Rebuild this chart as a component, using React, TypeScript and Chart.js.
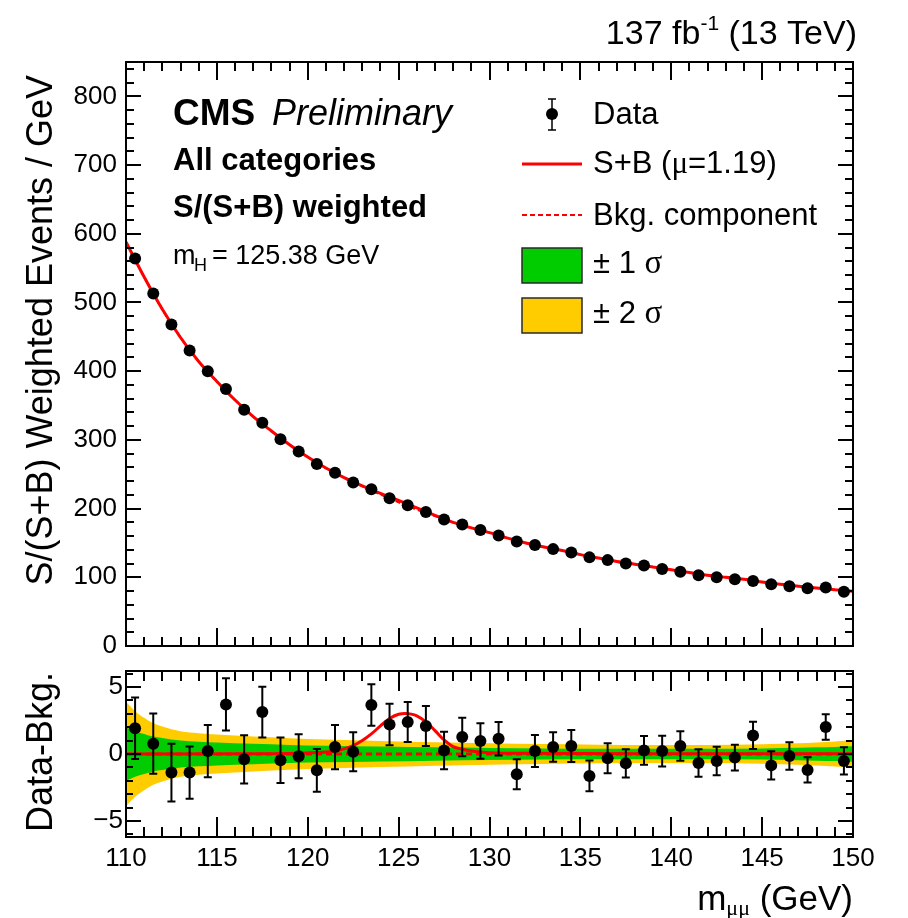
import React, { useEffect, useRef } from "react";
import { Chart, registerables } from "chart.js";

Chart.register(...registerables);

const SANS = '"Liberation Sans", Arial, Helvetica, sans-serif';
const SERIF = '"Liberation Serif", "DejaVu Serif", serif';

// ---------- data ----------
const binCenters = [
  110.5, 111.5, 112.5, 113.5, 114.5, 115.5, 116.5, 117.5, 118.5, 119.5,
  120.5, 121.5, 122.5, 123.5, 124.5, 125.5, 126.5, 127.5, 128.5, 129.5,
  130.5, 131.5, 132.5, 133.5, 134.5, 135.5, 136.5, 137.5, 138.5, 139.5,
  140.5, 141.5, 142.5, 143.5, 144.5, 145.5, 146.5, 147.5, 148.5, 149.5,
];
const dataWeighted = [
  564, 513, 468, 430, 400, 374, 344, 325, 301, 283,
  265, 252, 238, 228, 215, 205, 195, 184, 177, 169,
  161, 152, 147, 141, 136, 129, 125, 120, 117, 112,
  108, 103, 100, 97, 94.5, 90, 87, 84, 85, 79,
];
const curveX = [
  110, 111, 112, 113, 114, 115, 116, 117, 118, 119, 120, 121, 122, 123, 124,
  125, 126, 127, 128, 129, 130, 131, 132, 133, 134, 135, 136, 137, 138, 139,
  140, 141, 142, 143, 144, 145, 146, 147, 148, 149, 150,
];
const fitSB = [
  588, 537, 490, 449, 414, 385, 358, 334, 313, 293, 275, 259, 245, 233, 222,
  212, 201, 190, 180, 172, 165, 157, 150, 144, 139, 133, 128, 123, 119, 115,
  111, 107, 103, 100, 97, 93, 90, 87, 84.5, 82, 79.5,
];
const fitBkg = [
  588, 537, 490, 449, 414, 385, 358, 334, 313, 293, 275, 259, 245, 232.5, 220.5,
  209, 198.5, 189, 180, 172, 165, 157, 150, 144, 139, 133, 128, 123, 119, 115,
  111, 107, 103, 100, 97, 93, 90, 87, 84.5, 82, 79.5,
];
const residuals = [
  1.92, 0.77, -1.39, -1.39, 0.22, 3.7, -0.4, 3.13, -0.47, -0.17,
  -1.22, 0.52, 0.17, 3.66, 2.2, 2.39, 2.09, 0.27, 1.27, 0.97,
  1.14, -1.52, 0.22, 0.52, 0.6, -1.64, -0.32, -0.7, 0.27, 0.22,
  0.6, -0.67, -0.52, -0.27, 1.39, -0.85, -0.15, -1.19, 2.01, -0.52,
];
const residualErr = [
  2.3, 2.25, 2.15, 1.95, 1.95, 1.95, 1.8, 1.9, 1.7, 1.65,
  1.6, 1.65, 1.45, 1.55, 1.55, 1.5, 1.5, 1.4, 1.43, 1.33,
  1.25, 1.12, 1.2, 1.1, 1.2, 1.15, 1.12, 1.06, 1.07, 1.15,
  1.1, 1.03, 1.07, 0.97, 1.02, 1.05, 1.02, 0.94, 0.95, 1.02,
];
const bandX = [110, 110.5, 111, 111.5, 112, 113, 114, 115, 117, 119, 121, 124, 127, 130, 133, 136, 139, 142, 145, 147, 148, 149, 150];
const sigma1 = [2.0, 1.7, 1.5, 1.3, 1.2, 1.0, 0.92, 0.85, 0.76, 0.68, 0.62, 0.56, 0.5, 0.45, 0.42, 0.4, 0.4, 0.4, 0.42, 0.46, 0.5, 0.53, 0.58];
const sigma2 = [3.9, 3.2, 2.7, 2.3, 2.05, 1.7, 1.55, 1.45, 1.3, 1.18, 1.08, 0.98, 0.88, 0.8, 0.74, 0.7, 0.68, 0.68, 0.72, 0.8, 0.86, 0.93, 1.02];
const signalX = [110, 118, 119, 120, 121, 121.6, 122, 122.5, 123, 123.5, 124, 124.5, 125, 125.35, 125.7, 126, 126.5, 127, 127.5, 128, 128.5, 129, 130, 132, 140, 150];
const signalY = [0, 0.02, 0.04, 0.08, 0.15, 0.25, 0.38, 0.62, 1.0, 1.5, 2.1, 2.65, 2.97, 3.03, 2.98, 2.85, 2.4, 1.75, 1.05, 0.55, 0.35, 0.22, 0.1, 0.05, 0.02, 0.01];
const bkgLineX = [110, 150];
const bkgLineY = [0, 0];

const xTickValues = [110, 115, 120, 125, 130, 135, 140, 145, 150];
const yTickTop = [0, 100, 200, 300, 400, 500, 600, 700, 800];
const yTickBottom = [-5, 0, 5];

Chart.defaults.font.family = SANS;

function pts(xs: number[], ys: number[]) {
  return xs.map((x, i) => ({ x, y: ys[i] }));
}

function noPad(s: any) {
  s.paddingTop = 0;
  s.paddingBottom = 0;
  s.paddingLeft = 0;
  s.paddingRight = 0;
}

function drawFrame(chart: any, t: { xMaj: number; xMin: number; yMaj: number; yMin: number; yFrom: number; yTo: number; yStep: number; yMajEvery: number }) {
  const { ctx, chartArea: a, scales } = chart;
  const xs = scales.x, ys = scales.y;
  ctx.save();
  ctx.strokeStyle = "#000";
  ctx.lineWidth = 2;
  ctx.beginPath();
  for (let v = 110; v <= 150; v += 1) {
    const px = Math.round(xs.getPixelForValue(v));
    const len = v % 5 === 0 ? t.xMaj : t.xMin;
    ctx.moveTo(px, a.bottom);
    ctx.lineTo(px, a.bottom - len);
    ctx.moveTo(px, a.top);
    ctx.lineTo(px, a.top + len);
  }
  for (let v = t.yFrom; v <= t.yTo + 1e-9; v += t.yStep) {
    const py = Math.round(ys.getPixelForValue(v));
    const len = Math.abs(v % t.yMajEvery) < 1e-9 ? t.yMaj : t.yMin;
    ctx.moveTo(a.left, py);
    ctx.lineTo(a.left + len, py);
    ctx.moveTo(a.right, py);
    ctx.lineTo(a.right - len, py);
  }
  ctx.stroke();
  ctx.lineWidth = 2;
  ctx.strokeRect(a.left, a.top, a.right - a.left, a.bottom - a.top);
  ctx.restore();
}

function text(ctx: CanvasRenderingContext2D, s: string, x: number, y: number, font: string, align: CanvasTextAlign = "left") {
  ctx.font = font;
  ctx.textAlign = align;
  ctx.textBaseline = "alphabetic";
  ctx.fillStyle = "#000";
  ctx.fillText(s, x, y);
}

function vText(ctx: CanvasRenderingContext2D, s: string, x: number, yEnd: number, font: string) {
  ctx.save();
  ctx.translate(x, yEnd);
  ctx.rotate(-Math.PI / 2);
  text(ctx, s, 0, 0, font, "right");
  ctx.restore();
}

const topDecor = {
  id: "topDecor",
  afterDraw(chart: any) {
    const ctx: CanvasRenderingContext2D = chart.ctx;
    drawFrame(chart, { xMaj: 18, xMin: 9, yMaj: 15, yMin: 8, yFrom: 0, yTo: 840, yStep: 20, yMajEvery: 100 });
    ctx.save();
    // top-right luminosity label
    const f1 = `34px ${SANS}`;
    const fs = `21px ${SANS}`;
    ctx.font = f1;
    const w3 = ctx.measureText(" (13 TeV)").width;
    ctx.font = fs;
    const ws = ctx.measureText("-1").width;
    const x3 = 857 - w3;
    const xs = x3 - ws;
    text(ctx, " (13 TeV)", x3, 44, f1);
    text(ctx, "-1", xs, 30, fs);
    text(ctx, "137 fb", xs, 44, f1, "right");

    // CMS labels
    text(ctx, "CMS", 173, 125, `bold 37px ${SANS}`);
    text(ctx, "Preliminary", 272, 125, `italic 36px ${SANS}`);
    text(ctx, "All categories", 173, 170, `bold 31px ${SANS}`);
    text(ctx, "S/(S+B) weighted", 173, 217, `bold 31px ${SANS}`);
    text(ctx, "m", 173, 264, `27px ${SANS}`);
    text(ctx, "H", 194, 271, `18px ${SANS}`);
    text(ctx, "= 125.38 GeV", 212, 264, `27px ${SANS}`);

    // legend
    const lf = `31px ${SANS}`;
    ctx.fillStyle = "#000";
    ctx.strokeStyle = "#000";
    ctx.lineWidth = 1.5;
    ctx.beginPath();
    ctx.moveTo(552, 99); ctx.lineTo(552, 130);
    ctx.moveTo(548, 99); ctx.lineTo(556, 99);
    ctx.moveTo(548, 130); ctx.lineTo(556, 130);
    ctx.stroke();
    ctx.beginPath();
    ctx.arc(552, 114, 6, 0, Math.PI * 2);
    ctx.fill();
    text(ctx, "Data", 593, 124, lf);

    ctx.strokeStyle = "#ff0000";
    ctx.lineWidth = 3;
    ctx.beginPath(); ctx.moveTo(522, 164); ctx.lineTo(582, 164); ctx.stroke();
    ctx.font = lf;
    const wsb = ctx.measureText("S+B (").width;
    text(ctx, "S+B (", 593, 173, lf);
    ctx.font = `31px ${SERIF}`;
    const wmu = ctx.measureText("\u03bc").width;
    text(ctx, "\u03bc", 593 + wsb, 173, `31px ${SERIF}`);
    text(ctx, "=1.19)", 593 + wsb + wmu, 173, lf);

    ctx.setLineDash([5, 3]);
    ctx.lineWidth = 2;
    ctx.beginPath(); ctx.moveTo(522, 215); ctx.lineTo(582, 215); ctx.stroke();
    ctx.setLineDash([]);
    text(ctx, "Bkg. component", 593, 225, lf);

    ctx.fillStyle = "#00cc00";
    ctx.fillRect(522, 248, 60, 35);
    ctx.strokeStyle = "#2a2a2a";
    ctx.lineWidth = 1.5;
    ctx.strokeRect(522, 248, 60, 35);
    ctx.fillStyle = "#ffcc00";
    ctx.fillRect(522, 298, 60, 35);
    ctx.strokeRect(522, 298, 60, 35);
    ctx.font = lf;
    const wpm1 = ctx.measureText("\u00b1 1 ").width;
    text(ctx, "\u00b1 1 ", 593, 273, lf);
    text(ctx, "\u03c3", 593 + wpm1, 273, `33px ${SERIF}`);
    text(ctx, "\u00b1 2 ", 593, 323, lf);
    text(ctx, "\u03c3", 593 + wpm1, 323, `33px ${SERIF}`);

    // y title
    vText(ctx, "S/(S+B) Weighted Events / GeV", 52, 75, `36px ${SANS}`);
    ctx.restore();
  },
};

const botDecor = {
  id: "botDecor",
  afterDatasetsDraw(chart: any) {
    const ctx: CanvasRenderingContext2D = chart.ctx;
    const xs = chart.scales.x, ys = chart.scales.y;
    ctx.save();
    ctx.strokeStyle = "#000";
    ctx.lineWidth = 2;
    ctx.beginPath();
    binCenters.forEach((x, i) => {
      const px = xs.getPixelForValue(x);
      const t = ys.getPixelForValue(residuals[i] + residualErr[i]);
      const b = ys.getPixelForValue(residuals[i] - residualErr[i]);
      ctx.moveTo(px, t); ctx.lineTo(px, b);
      ctx.moveTo(px - 4, t); ctx.lineTo(px + 4, t);
      ctx.moveTo(px - 4, b); ctx.lineTo(px + 4, b);
    });
    ctx.stroke();
    ctx.restore();
  },
  afterDraw(chart: any) {
    const ctx: CanvasRenderingContext2D = chart.ctx;
    drawFrame(chart, { xMaj: 20, xMin: 10, yMaj: 15, yMin: 7, yFrom: -6, yTo: 6, yStep: 1, yMajEvery: 5 });
    ctx.save();
    vText(ctx, "Data-Bkg.", 52, 12, `36px ${SANS}`);
    // x title (canvas y offset 660)
    const f = `35px ${SANS}`;
    const fsub = `22px ${SERIF}`;
    ctx.font = f;
    const wp = ctx.measureText(" (GeV)").width;
    ctx.font = fsub;
    const wsub = ctx.measureText("\u03bc\u03bc").width;
    const xp = 853 - wp;
    const xsub = xp - wsub;
    text(ctx, " (GeV)", xp, 250, f);
    text(ctx, "\u03bc\u03bc", xsub, 255, fsub);
    text(ctx, "m", xsub, 250, f, "right");
    ctx.restore();
  },
};

export default function App() {
  const topRef = useRef<HTMLCanvasElement>(null);
  const botRef = useRef<HTMLCanvasElement>(null);

  useEffect(() => {
    const noGrid = { display: false, drawTicks: false };
    const top = new Chart(topRef.current!, {
      type: "scatter",
      data: {
        datasets: [
          {
            label: "Data",
            data: pts(binCenters, dataWeighted),
            pointRadius: 6,
            pointBackgroundColor: "#000",
            pointBorderColor: "#000",
            pointBorderWidth: 0,
            showLine: false,
            order: 0,
          } as any,
          {
            label: "S+B",
            type: "line",
            data: pts(curveX, fitSB),
            borderColor: "#ff0000",
            borderWidth: 3,
            pointRadius: 0,
            cubicInterpolationMode: "monotone",
            fill: false,
            order: 1,
          },
          {
            label: "Bkg. component",
            type: "line",
            data: pts(curveX, fitBkg),
            borderColor: "#ff0000",
            borderWidth: 2,
            borderDash: [5, 3],
            pointRadius: 0,
            cubicInterpolationMode: "monotone",
            fill: false,
            order: 2,
          },
        ],
      },
      options: {
        responsive: false,
        animation: false,
        events: [],
        layout: { padding: { left: 0, right: 55, top: 62, bottom: 0 } },
        plugins: { legend: { display: false }, tooltip: { enabled: false } },
        scales: {
          x: {
            type: "linear", min: 110, max: 150,
            grid: noGrid, border: { display: false },
            ticks: { display: false },
            afterFit: (s: any) => { s.height = 14; noPad(s); },
          },
          y: {
            type: "linear", min: 0, max: 850,
            grid: noGrid, border: { display: false },
            ticks: { color: "#000", font: { size: 26, family: SANS }, padding: 9 },
            afterBuildTicks: (s: any) => { s.ticks = yTickTop.map((v) => ({ value: v })); },
            afterFit: (s: any) => { s.width = 126; noPad(s); },
          },
        },
      } as any,
      plugins: [topDecor],
    });

    const bot = new Chart(botRef.current!, {
      type: "scatter",
      data: {
        datasets: [
          { label: "2s up", type: "line", data: pts(bandX, sigma2), fill: "+1", backgroundColor: "#ffcc00", borderColor: "rgba(0,0,0,0)", pointRadius: 0, cubicInterpolationMode: "monotone", order: 5 },
          { label: "2s dn", type: "line", data: pts(bandX, sigma2.map((v) => -v)), fill: false, borderColor: "rgba(0,0,0,0)", pointRadius: 0, cubicInterpolationMode: "monotone", order: 5 },
          { label: "1s up", type: "line", data: pts(bandX, sigma1), fill: "+1", backgroundColor: "#00cc00", borderColor: "rgba(0,0,0,0)", pointRadius: 0, cubicInterpolationMode: "monotone", order: 4 },
          { label: "1s dn", type: "line", data: pts(bandX, sigma1.map((v) => -v)), fill: false, borderColor: "rgba(0,0,0,0)", pointRadius: 0, cubicInterpolationMode: "monotone", order: 4 },
          { label: "Bkg", type: "line", data: pts(bkgLineX, bkgLineY), borderColor: "#ff0000", borderWidth: 3, borderDash: [6, 4], pointRadius: 0, fill: false, order: 3 },
          { label: "S+B", type: "line", data: pts(signalX, signalY), borderColor: "#ff0000", borderWidth: 3, pointRadius: 0, cubicInterpolationMode: "monotone", fill: false, order: 2 },
          { label: "Data", data: pts(binCenters, residuals), pointRadius: 6, pointBackgroundColor: "#000", pointBorderColor: "#000", pointBorderWidth: 0, showLine: false, order: 0 } as any,
        ],
      },
      options: {
        responsive: false,
        animation: false,
        events: [],
        layout: { padding: { left: 0, right: 55, top: 11, bottom: 0 } },
        plugins: { legend: { display: false }, tooltip: { enabled: false } },
        scales: {
          x: {
            type: "linear", min: 110, max: 150,
            grid: noGrid, border: { display: false },
            ticks: { color: "#000", font: { size: 26, family: SANS }, padding: 6, autoSkip: false, maxRotation: 0 },
            afterBuildTicks: (s: any) => { s.ticks = xTickValues.map((v) => ({ value: v })); },
            afterFit: (s: any) => { s.height = 81; noPad(s); },
          },
          y: {
            type: "linear", min: -6.2, max: 6.2,
            grid: noGrid, border: { display: false },
            ticks: {
              color: "#000", font: { size: 26, family: SANS }, padding: 3,
              callback: (v: any) => (v < 0 ? "\u2212" + Math.abs(v) : String(v)),
            },
            afterBuildTicks: (s: any) => { s.ticks = yTickBottom.map((v) => ({ value: v })); },
            afterFit: (s: any) => { s.width = 126; noPad(s); },
          },
        },
      } as any,
      plugins: [botDecor],
    });

    return () => {
      top.destroy();
      bot.destroy();
    };
  }, []);

  return (
    <div style={{ position: "fixed", left: 0, top: 0, width: 908, height: 918, background: "#fff" }}>
      <canvas ref={topRef} width={908} height={660} style={{ position: "absolute", left: 0, top: 0, width: 908, height: 660 }} />
      <canvas ref={botRef} width={908} height={258} style={{ position: "absolute", left: 0, top: 660, width: 908, height: 258 }} />
    </div>
  );
}
